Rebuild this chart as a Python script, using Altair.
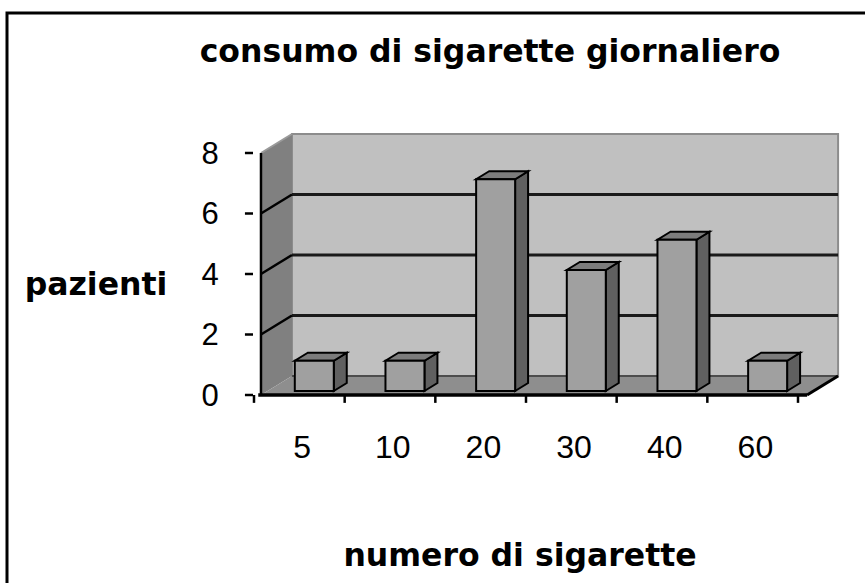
import altair as alt
import pandas as pd

# ---------------- data ----------------
categories = ["5", "10", "20", "30", "40", "60"]
patients = [1, 1, 7, 4, 5, 1]
y_ticks = [0, 2, 4, 6, 8]
grid_values = [2, 4, 6]

title_text = "consumo di sigarette giornaliero"
y_title = "pazienti"
x_title = "numero di sigarette"

# ---------------- geometry (data units of the 3D projection) ----------------
W, H = 865, 583
X_RANGE = [254, 798]   # front plane, category units 0..6
Y_RANGE = [395, 153]   # front plane, values 0..8
DX, DY = 0.342, 0.628  # depth of the box in data units
FX0, FX1 = 0.077, 6.10
BAR_HALF = 0.215
BAR_SX, BAR_SY = 0.165, 0.132
BAR_DX, BAR_DY = 0.143, 0.264

xs = alt.Scale(domain=[0, 6], range=X_RANGE, nice=False, zero=False)
ys = alt.Scale(domain=[0, 8], range=Y_RANGE, nice=False, zero=False)


def X(f):
    return alt.X(f, type="quantitative", scale=xs, axis=None)


def Y(f):
    return alt.Y(f, type="quantitative", scale=ys, axis=None)


# ---------------- frame ----------------
one = pd.DataFrame({"a": [0]})
frame = alt.Chart(one).mark_rect(fill=None, stroke="black", strokeWidth=3).encode(
    x=alt.value(7), x2=alt.value(W + 40), y=alt.value(13), y2=alt.value(H + 40)
)

# ---------------- walls ----------------
back = pd.DataFrame({"x": [FX0 + DX], "x2": [FX1 + DX], "y": [DY], "y2": [8 + DY]})
back_wall = alt.Chart(back).mark_rect(fill="#C0C0C0", stroke="#8C8C8C", strokeWidth=2).encode(
    x=X("x"), x2="x2", y=Y("y"), y2="y2"
)

bgrid = pd.DataFrame({"y": [v + DY for v in grid_values], "x": FX0 + DX, "x2": FX1 + DX})
back_grid = alt.Chart(bgrid).mark_rule(color="#1a1a1a", strokeWidth=3).encode(
    x=X("x"), x2="x2", y=Y("y")
)

left = pd.DataFrame({"x": [FX0, FX0 + DX], "y": [0, DY], "y2": [8, 8 + DY]})
left_wall = alt.Chart(left).mark_area(color="#808080").encode(x=X("x"), y=Y("y"), y2="y2")

lg_rows = []
for v in grid_values:
    lg_rows.append({"g": v, "x": FX0, "y": v})
    lg_rows.append({"g": v, "x": FX0 + DX, "y": v + DY})
left_grid = alt.Chart(pd.DataFrame(lg_rows)).mark_line(color="black", strokeWidth=2.5).encode(
    x=X("x"), y=Y("y"), detail="g:N"
)
top_edge = pd.DataFrame({"x": [FX0, FX0 + DX], "y": [8, 8 + DY]})
left_top = alt.Chart(top_edge).mark_line(color="#9a9a9a", strokeWidth=2).encode(x=X("x"), y=Y("y"))

floor = pd.DataFrame({"y": [0, DY], "x": [FX0, FX0 + DX], "x2": [FX1, FX1 + DX]})
floor_area = alt.Chart(floor).mark_area(orient="horizontal", color="#8E8E8E").encode(
    y=Y("y"), x=X("x"), x2="x2"
)
floor_back = alt.Chart(pd.DataFrame({"x": [FX0 + DX], "x2": [FX1 + DX], "y": [DY]})).mark_rule(
    color="#4d4d4d", strokeWidth=2
).encode(x=X("x"), x2="x2", y=Y("y"))

front_left = alt.Chart(pd.DataFrame({"x": [FX0], "y": [0], "y2": [8]})).mark_rule(
    color="black", strokeWidth=2.5
).encode(x=X("x"), y=Y("y"), y2="y2")
floor_front = alt.Chart(pd.DataFrame({"x": [FX0 - 0.03], "x2": [FX1], "y": [0]})).mark_rule(
    color="black", strokeWidth=3.5
).encode(x=X("x"), x2="x2", y=Y("y"))
floor_right = alt.Chart(pd.DataFrame({"x": [FX1, FX1 + DX], "y": [0, DY]})).mark_line(
    color="black", strokeWidth=3
).encode(x=X("x"), y=Y("y"))

# ---------------- bars ----------------
front_rows, side_rows, top_rows = [], [], []
for i, (c, v) in enumerate(zip(categories, patients)):
    cx = i + 0.5 + BAR_SX
    xl, xr = cx - BAR_HALF, cx + BAR_HALF
    yb, yt = BAR_SY, v + BAR_SY
    front_rows.append({"cat": c, "xl": xl, "xr": xr, "yb": yb, "yt": yt})
    side_rows.append({"cat": c, "x": xr, "lo": yb, "hi": yt})
    side_rows.append({"cat": c, "x": xr + BAR_DX, "lo": yb + BAR_DY, "hi": yt + BAR_DY})
    top_rows.append({"cat": c, "y": yt, "l": xl, "r": xr})
    top_rows.append({"cat": c, "y": yt + BAR_DY, "l": xl + BAR_DX, "r": xr + BAR_DX})

bar_side = alt.Chart(pd.DataFrame(side_rows)).mark_area(
    fill="#606060", stroke="black", strokeWidth=2
).encode(x=X("x"), y=Y("lo"), y2="hi", detail="cat:N")
bar_top = alt.Chart(pd.DataFrame(top_rows)).mark_area(
    orient="horizontal", fill="#7C7C7C", stroke="black", strokeWidth=2
).encode(y=Y("y"), x=X("l"), x2="r", detail="cat:N")
bar_front = alt.Chart(pd.DataFrame(front_rows)).mark_rect(
    fill="#A0A0A0", stroke="black", strokeWidth=2
).encode(x=X("xl"), x2="xr", y=Y("yb"), y2="yt")

# ---------------- axes (ticks + labels) ----------------
yt_df = pd.DataFrame({"v": y_ticks, "x": -0.10, "x2": -0.011, "lx": -0.39,
                      "ly": [v - 0.36 for v in y_ticks], "t": [str(v) for v in y_ticks]})
y_tick_marks = alt.Chart(yt_df).mark_rule(color="black", strokeWidth=2.5).encode(
    x=X("x"), x2="x2", y=Y("v")
)
y_labels = alt.Chart(yt_df).mark_text(
    align="right", baseline="alphabetic", font="Liberation Sans", fontSize=31, color="black"
).encode(x=X("lx"), y=Y("ly"), text="t:N")

xt_df = pd.DataFrame({"k": list(range(len(categories) + 1)), "y": 0, "y2": -0.26})
x_tick_marks = alt.Chart(xt_df).mark_rule(color="black", strokeWidth=2.5).encode(
    x=X("k"), y=Y("y"), y2="y2"
)
xl_df = pd.DataFrame({"cat": categories, "x": [i + 0.53 for i in range(len(categories))],
                      "y": -2.08})
x_labels = alt.Chart(xl_df).mark_text(
    align="center", baseline="alphabetic", font="Liberation Sans", fontSize=32, color="black"
).encode(x=X("x"), y=Y("y"), text="cat:N")

# ---------------- titles ----------------
def label(txt, x, y, size=31.5):
    return alt.Chart(pd.DataFrame({"t": [txt]})).mark_text(
        align="center", baseline="alphabetic", font="DejaVu Sans", fontWeight="bold",
        fontSize=size, color="black"
    ).encode(x=alt.value(x), y=alt.value(y), text="t:N")


main_title = label(title_text, 490, 62)
ytitle = label(y_title, 96, 295)
xtitle = label(x_title, 520, 566)

chart = alt.layer(
    frame, back_wall, back_grid, left_wall, left_top, left_grid, floor_area, floor_back,
    front_left, bar_side, bar_top, bar_front, floor_front, floor_right,
    y_tick_marks, y_labels, x_tick_marks, x_labels, main_title, ytitle, xtitle,
).properties(
    width=W, height=H, padding=0, autosize=alt.AutoSizeParams(type="none"), background="white"
).configure_view(stroke=None)

chart.save("out.html", embed_options={"renderer": "svg", "actions": False})
